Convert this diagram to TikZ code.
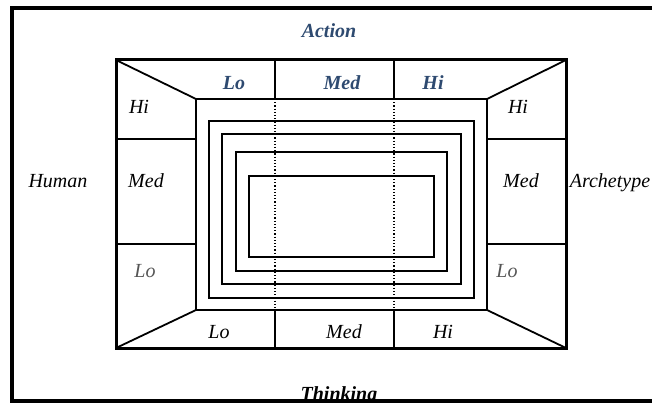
\documentclass[tikz,border=0pt]{standalone}
\usepackage{fontspec}
\setmainfont{Liberation Serif}
\usetikzlibrary{positioning}

\definecolor{actblue}{RGB}{46,74,112}
\definecolor{logray}{RGB}{85,85,85}

\begin{document}
\begin{tikzpicture}[
    x=1pt, y=-1pt,
    every node/.style={font=\fontsize{20}{24}\selectfont\itshape, inner sep=0pt, anchor=base},
    head/.style={font=\fontsize{20}{24}\selectfont\bfseries\itshape},
    axis/.style={head, text=actblue},
    faint/.style={text=logray},
    frame/.style={line width=4pt},
    box/.style={line width=3pt},
    ring/.style={line width=1.8pt},
    guide/.style={dotted, line width=1.2pt},
]
\clip (0,0) rectangle (652,403);

% Corners of the outer and inner box
\coordinate (oNW) at (116,60);
\coordinate (oNE) at (566,60);
\coordinate (oSW) at (116,348);
\coordinate (oSE) at (566,348);
\coordinate (iNW) at (196,99);
\coordinate (iNE) at (487,99);
\coordinate (iSW) at (196,310);
\coordinate (iSE) at (487,310);

% Boxes
\draw[box] (oNW) rectangle (oSE);
\draw[ring] (iNW) rectangle (iSE);
\draw[ring] (oNW) -- (iNW);
\draw[ring] (oNE) -- (iNE);
\draw[ring] (oSW) -- (iSW);
\draw[ring] (oSE) -- (iSE);

% Dividers of the top and bottom bands
\draw[ring] (275,60) -- (275,99);
\draw[ring] (394,60) -- (394,99);
\draw[ring] (275,310) -- (275,348);
\draw[ring] (394,310) -- (394,348);

% Dividers of the side bands
\draw[ring] (116,139) -- (196,139);
\draw[ring] (116,244) -- (196,244);
\draw[ring] (487,139) -- (566,139);
\draw[ring] (487,244) -- (566,244);

% Nested rings
\draw[ring] (209,121) rectangle (474,298);
\draw[ring] (222,134) rectangle (461,284);
\draw[ring] (236,152) rectangle (447,271);
\draw[ring] (249,176) rectangle (434,257);

% Dotted guides
\draw[guide] (275,99) -- (275,310);
\draw[guide] (394,99) -- (394,310);

% Axis titles
\node[axis] (action) at (329,38) {Action};
\node (human) at (58,188) {Human};
\node (archetype) at (610,188) {Archetype};
\node[head] (thinking) at (339,400) {Thinking};

% Top band
\node[axis] (topLo) at (234,90) {Lo};
\node[axis] (topMed) at (342,90) {Med};
\node[axis] (topHi) at (433,90) {Hi};

% Left band
\node (leftHi) at (139,114) {Hi};
\node (leftMed) at (146,188) {Med};
\node[faint] (leftLo) at (145,277) {Lo};

% Right band
\node (rightHi) at (518,114) {Hi};
\node (rightMed) at (521,188) {Med};
\node[faint] (rightLo) at (507,277) {Lo};

% Bottom band
\node (botLo) at (219,338) {Lo};
\node (botMed) at (344,338) {Med};
\node (botHi) at (443,338) {Hi};

% Outer frame
\draw[frame] (670,8) -- (12,8) -- (12,401) -- (670,401);

\end{tikzpicture}
\end{document}
